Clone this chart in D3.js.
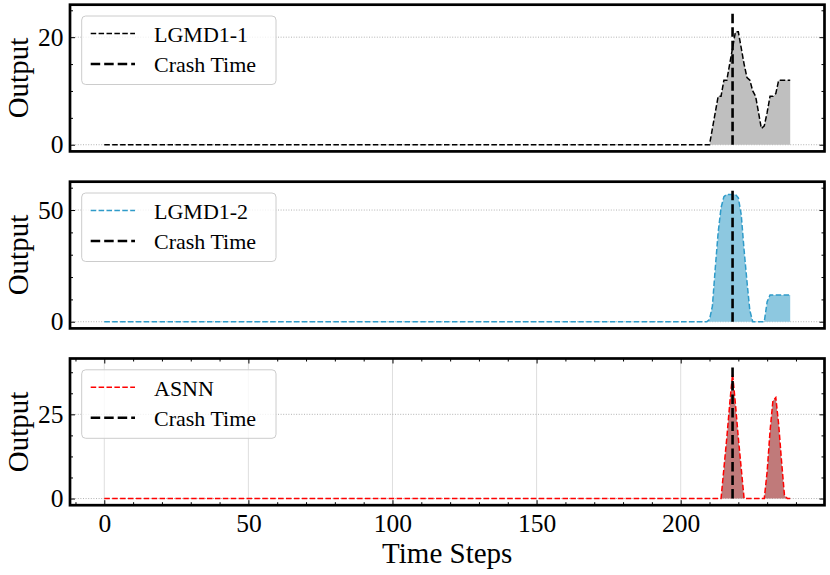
<!DOCTYPE html>
<html><head><meta charset="utf-8">
<script src="https://cdn.jsdelivr.net/npm/d3@7"></script>
<style>body{margin:0;background:#fff} svg{display:block}</style>
</head><body>
<svg id="chart" width="830" height="575"></svg>
<script>
// ---------- data ----------
const steps  = [0,205,206,207,208,209,210,211,212,213,214,215,216,217,218,219,220,221,222,223,224,225,226,227,228,229,230,231,232,233,234,235,236,237,238];
const lgmd11 = [0,  0,  0,  0,  0,  0,  0,  3,  6,  9,  9, 12, 12, 15, 18, 21, 21, 18, 15, 12.5,12,10,  9,  6,  3,3.5,  6,  9,  9,9.5, 12, 12, 12, 12, 12];
const lgmd12 = [0,  0,  0,  0,  0,  0,  1,  7, 24, 40, 51, 56, 57, 57, 57, 57, 55.5,48,32,18,  5,  0,  0,  0,  0,  0,  9, 12, 12, 12, 12, 12, 12, 12, 12];
const asnn   = [0,  0,  0,  0,  0,  0,  0,  0,  0,  0,  0,  9, 18, 28, 37, 28, 18,  9,  0,  0,  0,  0,  0,  0,  0,  0,  8, 20, 29, 30, 22, 11,  1,  0,  0];
const seriesNames = ["LGMD1-1", "LGMD1-2", "ASNN"];
const crashTime = 218;
const crashTops = [24.8, 59.7, 39.6];
const yMajorTicks = [[0, 20], [0, 50], [0, 25]];
const yMinorSteps = [5, 10, 6.25];
const xMajorTicks = [0, 50, 100, 150, 200];
const xMinorStep = 10;
const xLabel = "Time Steps", yLabel = "Output", crashLabel = "Crash Time";

// ---------- styles ----------
const lineColors = ["#000000", "#2f9bc9", "#ff0000"];
const fillColors = ["#bfbfbf", "#8dc8e0", "#c07a7a"];
const FONT = "'Liberation Serif','Times New Roman',serif";
const panelTops = [4.7, 181.7, 358.5];
const panelH = 146.7;
const X0 = 70, X1 = 824.5;

const svg = d3.select("#chart");
const series = [lgmd11, lgmd12, asnn];
const tMax = d3.max(steps);
const x = d3.scaleLinear().domain([-0.05 * tMax, 1.05 * tMax]).range([X0, X1]);

function minorTicks(lo, hi, step) {
  const out = [];
  for (let v = Math.ceil(lo / step) * step; v <= hi + 1e-9; v += step) out.push(+v.toFixed(4));
  return out;
}

series.forEach((vals, i) => {
  const top = panelTops[i], bot = top + panelH;
  const yTop = crashTops[i];
  const y = d3.scaleLinear().domain([-0.05 * yTop, 1.05 * yTop]).range([bot, top]);
  const data = steps.map((t, k) => [t, vals[k]]);
  const g = svg.append("g");

  const clipId = "clip" + i;
  svg.append("clipPath").attr("id", clipId).append("rect")
    .attr("x", X0).attr("y", top).attr("width", X1 - X0).attr("height", panelH);
  const inner = g.append("g").attr("clip-path", `url(#${clipId})`);

  // grid
  if (i === 2) {
    inner.selectAll(".vg").data(xMajorTicks).join("line")
      .attr("x1", d => x(d)).attr("x2", d => x(d)).attr("y1", top).attr("y2", bot)
      .attr("stroke", "#d6d6d6").attr("stroke-width", 0.8);
  }
  inner.selectAll(".hg").data(yMajorTicks[i]).join("line")
    .attr("x1", X0).attr("x2", X1).attr("y1", d => y(d)).attr("y2", d => y(d))
    .attr("stroke", "#a0a0a0").attr("stroke-width", 0.8).attr("stroke-dasharray", "1,1.6");

  // area + line
  inner.append("path").datum(data)
    .attr("d", d3.area().x(d => x(d[0])).y0(y(0)).y1(d => y(d[1])))
    .attr("fill", fillColors[i]);
  inner.append("path").datum(data)
    .attr("d", d3.line().x(d => x(d[0])).y(d => y(d[1])))
    .attr("fill", "none").attr("stroke", lineColors[i]).attr("stroke-width", 1.5)
    .attr("stroke-dasharray", "5.5,2.4");

  // crash line
  inner.append("line")
    .attr("x1", x(crashTime)).attr("x2", x(crashTime))
    .attr("y1", y(0)).attr("y2", y(crashTops[i]))
    .attr("stroke", "#000").attr("stroke-width", 2.6).attr("stroke-dasharray", "9.5,4");

  // ticks
  const [ylo, yhi] = y.domain();
  const yMin = minorTicks(ylo, yhi, yMinorSteps[i]).filter(v => !yMajorTicks[i].includes(v));
  const axL = g.append("g").attr("transform", `translate(${X0},0)`)
    .call(d3.axisLeft(y).tickValues(yMajorTicks[i]).tickSize(-5).tickSizeOuter(0).tickPadding(6.5));
  axL.select(".domain").remove();
  axL.selectAll("text").attr("font-family", FONT).attr("font-size", 25.5).attr("fill", "#000");
  const axLm = g.append("g").attr("transform", `translate(${X0},0)`)
    .call(d3.axisLeft(y).tickValues(yMin).tickSize(-3).tickSizeOuter(0).tickFormat(""));
  axLm.select(".domain").remove();
  const axR = g.append("g").attr("transform", `translate(${X1},0)`)
    .call(d3.axisRight(y).tickValues(yMajorTicks[i]).tickSize(-5).tickSizeOuter(0).tickFormat(""));
  axR.select(".domain").remove();
  const axRm = g.append("g").attr("transform", `translate(${X1},0)`)
    .call(d3.axisRight(y).tickValues(yMin).tickSize(-3).tickSizeOuter(0).tickFormat(""));
  axRm.select(".domain").remove();

  if (i === 2) {
    const [xlo, xhi] = x.domain();
    const xMin = minorTicks(xlo, xhi, xMinorStep).filter(v => !xMajorTicks.includes(v));
    const axB = g.append("g").attr("transform", `translate(0,${bot})`)
      .call(d3.axisBottom(x).tickValues(xMajorTicks).tickSize(-5).tickSizeOuter(0).tickPadding(9));
    axB.select(".domain").remove();
    axB.selectAll("text").attr("font-family", FONT).attr("font-size", 25.5).attr("fill", "#000");
    const axBm = g.append("g").attr("transform", `translate(0,${bot})`)
      .call(d3.axisBottom(x).tickValues(xMin).tickSize(-3).tickSizeOuter(0).tickFormat(""));
    axBm.select(".domain").remove();
    const axT = g.append("g").attr("transform", `translate(0,${top})`)
      .call(d3.axisTop(x).tickValues(xMajorTicks).tickSize(-5).tickSizeOuter(0).tickFormat(""));
    axT.select(".domain").remove();
    const axTm = g.append("g").attr("transform", `translate(0,${top})`)
      .call(d3.axisTop(x).tickValues(xMin).tickSize(-3).tickSizeOuter(0).tickFormat(""));
    axTm.select(".domain").remove();
  }
  g.selectAll(".tick line").attr("stroke", "#000").attr("stroke-width", 1);

  // legend
  const lx = 81.7, ly = top + 11.3, lw = 194.3, lh = 68.5;
  const lg = g.append("g");
  lg.append("rect").attr("x", lx).attr("y", ly).attr("width", lw).attr("height", lh)
    .attr("rx", 4).attr("fill", "#fff").attr("fill-opacity", 0.8)
    .attr("stroke", "#cccccc").attr("stroke-width", 1);
  const rows = [
    {label: seriesNames[i], color: lineColors[i], w: 1.5, dash: "5.5,2.4"},
    {label: crashLabel, color: "#000", w: 2.6, dash: "9.5,4"}
  ];
  rows.forEach((r, k) => {
    const ry = ly + 17.5 + k * 30.5;
    lg.append("line").attr("x1", 90.7).attr("x2", 135).attr("y1", ry).attr("y2", ry)
      .attr("stroke", r.color).attr("stroke-width", r.w).attr("stroke-dasharray", r.dash);
    lg.append("text").attr("x", 154).attr("y", ry + 8.3)
      .attr("font-family", FONT).attr("font-size", 22).attr("fill", "#000").text(r.label);
  });

  // frame
  g.append("rect").attr("x", X0).attr("y", top).attr("width", X1 - X0).attr("height", panelH)
    .attr("fill", "none").attr("stroke", "#000").attr("stroke-width", 2.7);

  // y label
  g.append("text").attr("transform", `translate(28,${top + panelH / 2}) rotate(-90)`)
    .attr("text-anchor", "middle").attr("font-family", FONT).attr("font-size", 29)
    .attr("fill", "#000").text(yLabel);
});

svg.append("text").attr("x", (X0 + X1) / 2).attr("y", 563).attr("text-anchor", "middle")
  .attr("font-family", FONT).attr("font-size", 29).attr("fill", "#000").text(xLabel);
</script>
</body></html>
